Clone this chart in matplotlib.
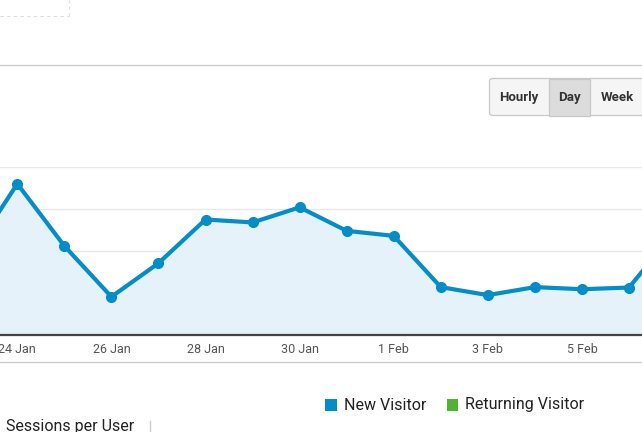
import matplotlib
matplotlib.use("Agg")
import matplotlib.pyplot as plt
from matplotlib.patches import FancyBboxPatch, Rectangle
from matplotlib.lines import Line2D
import numpy as np

# -----------------------------
# Данные (сессии по дням)
# -----------------------------
days = ["23 Jan", "24 Jan", "25 Jan", "26 Jan", "27 Jan", "28 Jan", "29 Jan",
        "30 Jan", "31 Jan", "1 Feb", "2 Feb", "3 Feb", "4 Feb", "5 Feb",
        "6 Feb", "7 Feb"]
new_visitor = [18.8, 36.0, 21.2, 9.1, 17.1, 27.5, 26.8, 30.4, 24.8, 23.6,
               11.4, 9.5, 11.4, 10.9, 11.3, 25.0]
tick_labels = ["24 Jan", "26 Jan", "28 Jan", "30 Jan", "1 Feb", "3 Feb", "5 Feb"]
legend_names = ["New Visitor", "Returning Visitor"]
buttons = ["Hourly", "Day", "Week"]

BLUE = "#058dc7"
GREEN = "#50b432"
FILL = "#e6f2f9"

plt.rcParams['font.family'] = ['Roboto', 'DejaVu Sans']

W, H = 642, 432
fig = plt.figure(figsize=(W / 100, H / 100), dpi=100)


def fx(x):
    return x / W


def fy(y):
    return 1 - y / H


# -----------------------------
# График
# -----------------------------
ax = fig.add_axes([0, fy(335), 1, fy(167) - fy(335)])
x = np.arange(len(days))
ax.fill_between(x, new_visitor, 0, color=FILL, zorder=1)
ax.plot(x, new_visitor, color=BLUE, lw=3.0, marker='o', ms=7,
        solid_joinstyle='round', zorder=3)

ax.set_xlim(1 - 17.3 / 47.05, 14 + 13 / 47.05)
ax.set_ylim(0, 40)
ax.set_yticks([10, 20, 30, 40])
ax.yaxis.grid(True, color="#e8e8e8", lw=1)
ax.set_axisbelow(True)
ax.tick_params(axis='y', left=False, labelleft=False)

ax.set_xticks([days.index(t) for t in tick_labels])
ax.set_xticklabels(tick_labels)
ax.tick_params(axis='x', length=0, pad=6, labelsize=9, labelcolor="#555555")

for s in ["top", "left", "right"]:
    ax.spines[s].set_visible(False)
ax.spines["bottom"].set_color("#444444")
ax.spines["bottom"].set_linewidth(1.6)

# разделители
fig.add_artist(Line2D([0, 1], [fy(65), fy(65)], color="#cccccc", lw=1))
fig.add_artist(Line2D([0, 1], [fy(362), fy(362)], color="#cccccc", lw=1))

# пунктирная рамка сверху слева
fig.add_artist(Line2D([0, fx(69)], [fy(16), fy(16)], color="#dddddd", lw=0.8, ls=(0, (3, 3))))
fig.add_artist(Line2D([fx(69), fx(69)], [fy(16), 1], color="#dddddd", lw=0.8, ls=(0, (3, 3))))

# -----------------------------
# Кнопки Hourly / Day / Week
# -----------------------------
edges = [489.5, 548.5, 590, 660]
top, bot = 78.5, 115.5
box = FancyBboxPatch((fx(edges[0]), fy(bot)), fx(edges[-1]) - fx(edges[0]), fy(top) - fy(bot),
                     boxstyle="round,pad=0,rounding_size=0.006", transform=fig.transFigure,
                     facecolor="#f5f5f5", edgecolor="#c8c8c8", lw=0.9)
fig.add_artist(box)
fig.add_artist(Rectangle((fx(edges[1]), fy(bot)), fx(edges[2]) - fx(edges[1]), fy(top) - fy(bot),
                         transform=fig.transFigure, facecolor="#dcdcdc", edgecolor="#c8c8c8", lw=0.9))
centers = [518.5, 569, 617]
for name, cx in zip(buttons, centers):
    fig.text(fx(cx), fy(97.5), name, ha='center', va='center', fontsize=9.5,
             fontweight='bold', color="#333333")

# -----------------------------
# Легенда
# -----------------------------
for name, col, sx, tx in [(legend_names[0], BLUE, 325, 344), (legend_names[1], GREEN, 446.5, 465)]:
    fig.add_artist(Rectangle((fx(sx), fy(411)), fx(11.5), fy(399) - fy(411),
                             transform=fig.transFigure, facecolor=col, edgecolor='none'))
    fig.text(fx(tx), fy(405), name, ha='left', va='center', fontsize=11.5, color="#222222")

# низ: обрезанная подпись
fig.text(fx(6.5), fy(419), "Sessions per User", ha='left', va='top', fontsize=11.5, color="#222222")
fig.add_artist(Line2D([fx(149.5), fx(149.5)], [fy(421), 0], color="#cccccc", lw=1))

fig.savefig("out.png", dpi=100)
